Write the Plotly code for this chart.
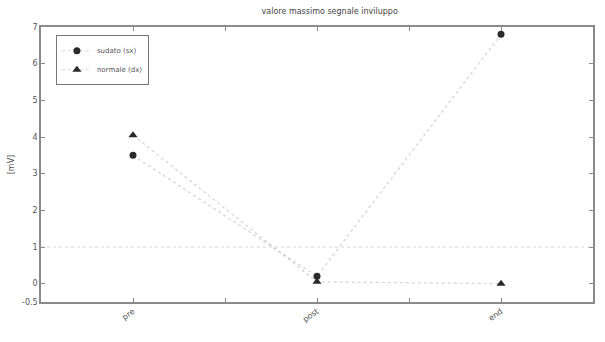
import plotly.graph_objects as go

# Sessions and measured peak envelope values [mV]
sessions = ["pre", "post", "end"]
x_pos = [1, 2, 3]
sudato_sx = [3.5, 0.2, 6.8]
normale_dx = [4.05, 0.05, 0.0]
threshold = 1.0

y_ticks = [-0.5, 0, 1, 2, 3, 4, 5, 6, 7]
y_tick_text = ["-0.5", "0", "1", "2", "3", "4", "5", "6", "7"]

line_col = "rgba(170,170,170,0.5)"
mark_col = "#2a2a2a"

fig = go.Figure()

fig.add_trace(go.Scatter(
    x=x_pos, y=sudato_sx, mode="lines+markers", name="sudato (sx)",
    line=dict(color=line_col, width=1.2, dash="dot"),
    marker=dict(symbol="circle", size=7, color=mark_col),
))
fig.add_trace(go.Scatter(
    x=x_pos, y=normale_dx, mode="lines+markers", name="normale (dx)",
    line=dict(color=line_col, width=1.2, dash="dot"),
    marker=dict(symbol="triangle-up", size=8, color=mark_col),
))

# Reference level
fig.add_shape(type="line", xref="paper", x0=0, x1=1, yref="y",
              y0=threshold, y1=threshold,
              line=dict(color="rgba(175,175,175,0.55)", width=1, dash="dot"))

axis_common = dict(
    showline=True, linecolor="#8a8a8a", linewidth=1.5, mirror="ticks",
    ticks="inside", ticklen=4, tickcolor="#8a8a8a",
    showgrid=False, zeroline=False,
    tickfont=dict(family="DejaVu Sans", size=8, color="#555"),
)

fig.update_xaxes(
    range=[0.5, 3.5], tickvals=[1, 1.5, 2, 2.5, 3],
    ticktext=["pre", "", "post", "", "end"], tickangle=-35,
    **axis_common,
)
fig.update_yaxes(
    range=[-0.5, 7], tickvals=y_ticks, ticktext=y_tick_text,
    title=dict(text="[mV]", standoff=6, font=dict(family="DejaVu Sans", size=8, color="#555")),
    **axis_common,
)

fig.update_layout(
    width=605, height=342,
    margin=dict(l=37, r=10, t=27, b=40),
    paper_bgcolor="white", plot_bgcolor="white",
    title=dict(text="valore massimo segnale inviluppo", x=0.545, xanchor="center",
               y=0.975, yanchor="top",
               font=dict(family="DejaVu Sans", size=8, color="#444")),
    showlegend=True,
    legend=dict(x=0.027, y=0.97, xanchor="left", yanchor="top",
                bgcolor="white", bordercolor="#777", borderwidth=1,
                font=dict(family="DejaVu Sans", size=7, color="#555"),
                tracegroupgap=0, itemwidth=30),
)

fig.write_html("out.html")
